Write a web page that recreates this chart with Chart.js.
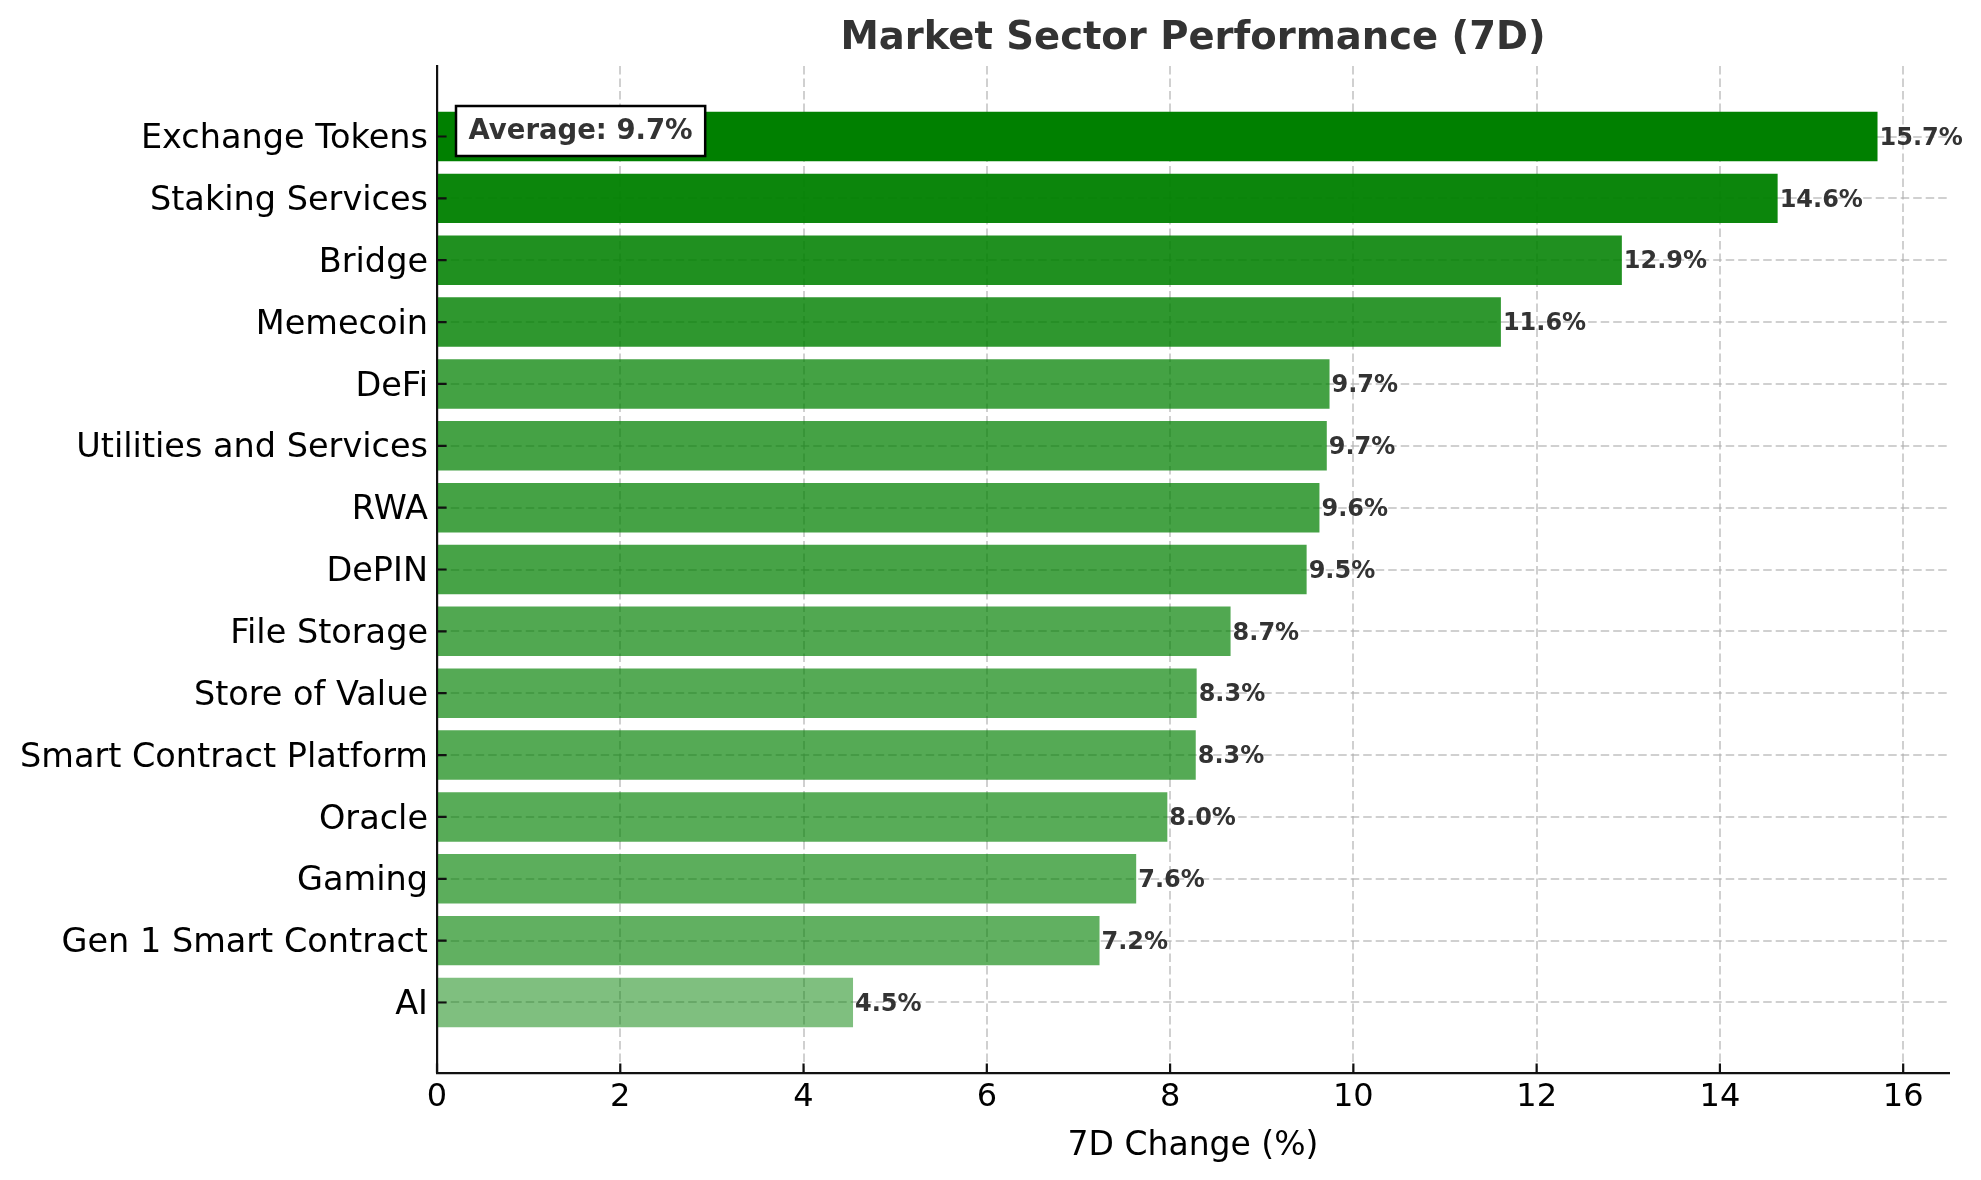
<!DOCTYPE html>
<html>
<head>
<meta charset="utf-8">
<title>Market Sector Performance (7D)</title>
<script src="https://cdn.jsdelivr.net/npm/chart.js@4.4.0/dist/chart.umd.min.js"></script>
<style>
  html, body { margin: 0; padding: 0; background: #fff; }
  #wrap { width: 1981px; height: 1180px; position: relative; }
</style>
</head>
<body>
<div id="wrap"><canvas id="chart"></canvas></div>
<script>
// sectors from top to bottom, 7 day change in %
const sectors = [
  'Exchange Tokens', 'Staking Services', 'Bridge', 'Memecoin', 'DeFi',
  'Utilities and Services', 'RWA', 'DePIN', 'File Storage', 'Store of Value',
  'Smart Contract Platform', 'Oracle', 'Gaming', 'Gen 1 Smart Contract', 'AI'
];
const changes = [
  15.72, 14.63, 12.93, 11.61, 9.74,
  9.71, 9.63, 9.49, 8.66, 8.29,
  8.28, 7.97, 7.63, 7.23, 4.54
];
const xTicks = [0, 2, 4, 6, 8, 10, 12, 14, 16];
const chartTitle = 'Market Sector Performance (7D)';

const FONT = "'DejaVu Sans', 'Liberation Sans', sans-serif";
const GRID = 'rgba(176, 176, 176, 0.6)';
const SPINE = '#111';

const avgChange = changes.reduce((a, b) => a + b, 0) / changes.length;
const lo = Math.min(...changes);
const hi = Math.max(...changes);
// darker green for the stronger sectors
const barColors = changes.map(v => `rgba(0, 128, 0, ${0.5 + 0.5 * (v - lo) / (hi - lo)})`);

Chart.defaults.font.family = FONT;

// title over the plot, inward tick marks, value labels and the average box
const overlays = {
  id: 'overlays',
  afterDraw(chart) {
    const { ctx, chartArea: area, scales: { x, y } } = chart;
    ctx.save();

    ctx.font = `bold 38.5px ${FONT}`;
    ctx.fillStyle = '#333';
    ctx.textAlign = 'center';
    ctx.textBaseline = 'middle';
    ctx.fillText(chartTitle, (area.left + area.right) / 2, 39);

    ctx.strokeStyle = SPINE;
    ctx.lineWidth = 2.2;
    ctx.beginPath();
    x.ticks.forEach(t => {
      const px = x.getPixelForValue(t.value);
      ctx.moveTo(px, area.bottom);
      ctx.lineTo(px, area.bottom - 9.6);
    });
    y.ticks.forEach(t => {
      const py = y.getPixelForValue(t.value);
      ctx.moveTo(area.left, py);
      ctx.lineTo(area.left + 9.6, py);
    });
    ctx.stroke();

    ctx.font = `bold 24px ${FONT}`;
    ctx.fillStyle = '#333';
    ctx.textAlign = 'left';
    chart.getDatasetMeta(0).data.forEach((bar, i) => {
      ctx.fillText(changes[i].toFixed(1) + '%', bar.x + 2, bar.y + 2);
    });

    const text = `Average: ${avgChange.toFixed(1)}%`;
    ctx.font = `bold 27.5px ${FONT}`;
    const w = ctx.measureText(text).width + 25;
    const h = 50;
    const bx = area.left + 19;
    const by = area.top + 40;
    ctx.fillStyle = '#fff';
    ctx.fillRect(bx, by, w, h);
    ctx.lineWidth = 2.5;
    ctx.strokeStyle = '#000';
    ctx.strokeRect(bx, by, w, h);
    ctx.fillStyle = '#333';
    ctx.textAlign = 'center';
    ctx.fillText(text, bx + w / 2, by + h / 2 + 1);

    ctx.restore();
  }
};

new Chart(document.getElementById('chart'), {
  type: 'bar',
  data: {
    datasets: [{
      data: changes.map((v, i) => ({ x: v, y: i })),
      backgroundColor: barColors,
      borderWidth: 0,
      barPercentage: 0.8,
      categoryPercentage: 1.0
    }]
  },
  options: {
    indexAxis: 'y',
    responsive: true,
    maintainAspectRatio: false,
    animation: false,
    layout: { padding: { left: 0, right: 32, top: 66, bottom: 0 } },
    plugins: {
      legend: { display: false },
      tooltip: { enabled: false },
      title: { display: false }
    },
    scales: {
      x: {
        type: 'linear',
        min: 0,
        max: 16.5,
        z: 1,
        afterBuildTicks: (scale) => { scale.ticks = xTicks.map(v => ({ value: v })); },
        afterFit: (scale) => { scale.height = 107; },
        grid: {
          color: (c) => (c.tick && c.tick.value === 0 ? 'transparent' : GRID),
          lineWidth: 2,
          drawTicks: false
        },
        border: { display: true, color: SPINE, width: 2.2, dash: [8.5, 4] },
        ticks: { color: '#000', font: { size: 32 }, padding: 5 },
        title: {
          display: true,
          text: '7D Change (%)',
          color: '#000',
          font: { size: 33 },
          padding: { top: 0, bottom: 14 }
        }
      },
      y: {
        type: 'linear',
        reverse: true,
        offset: false,
        min: -1.14,
        max: sectors.length - 1 + 1.14,
        z: 1,
        afterBuildTicks: (scale) => { scale.ticks = sectors.map((s, i) => ({ value: i })); },
        afterFit: (scale) => { scale.width = 437; },
        grid: { offset: false, color: GRID, lineWidth: 2, drawTicks: false },
        border: { display: true, color: SPINE, width: 2.2, dash: [8.5, 4] },
        ticks: {
          color: '#000',
          font: { size: 33.5 },
          padding: 9,
          labelOffset: 3,
          autoSkip: false,
          callback: (v) => sectors[v]
        }
      }
    }
  },
  plugins: [overlays]
});
</script>
</body>
</html>
